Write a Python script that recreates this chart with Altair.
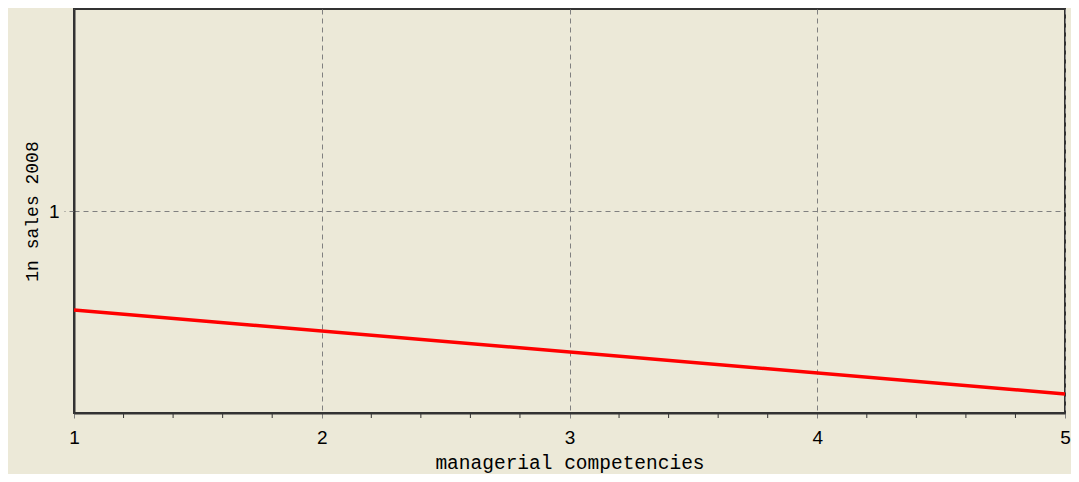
import altair as alt
import pandas as pd

# data
comp = [1, 5]
ln_sales = [0.755, 0.547]
minor_ticks = [1.2, 1.4, 1.6, 1.8, 2.2, 2.4, 2.6, 2.8, 3.2, 3.4, 3.6, 3.8,
               4.2, 4.4, 4.6, 4.8]
x_ticks = [1, 2, 3, 4, 5]
y_ticks = [1]

W, H = 991, 404
BG = "#ECE9D8"

df = pd.DataFrame({"comp": comp, "ln": ln_sales})
dm = pd.DataFrame({"m": minor_ticks})

xs = alt.Scale(domain=[1, 5], nice=False, zero=False)
ys = alt.Scale(domain=[0.5, 1.5], nice=False, zero=False)

line = alt.Chart(df).mark_line(color="#FF0000", strokeWidth=3.5).encode(
    x=alt.X("comp:Q", scale=xs,
            axis=alt.Axis(values=x_ticks, title="managerial competencies",
                          format="d", grid=True, gridColor="#808080",
                          gridDash=[5, 4], gridOpacity=1, tickColor="#808080",
                          tickDash=[5, 4], tickSize=9, tickWidth=1,
                          labelFlush=False, labelPadding=6,
                          labelFont="Liberation Sans",
                          labelFontSize=19, labelColor="#000",
                          titleFont="Liberation Mono", titleFontSize=19.5,
                          titleFontWeight="normal", titleColor="#000",
                          titlePadding=6, domainColor="#333", domainWidth=2)),
    y=alt.Y("ln:Q", scale=ys,
            axis=alt.Axis(values=y_ticks, title="1n sales 2008", format="d",
                          grid=True, gridColor="#808080", gridDash=[5, 4],
                          gridOpacity=1, tickColor="#808080", tickDash=[5, 4],
                          tickSize=10, tickWidth=1, labelPadding=5,
                          labelFlush=False,
                          labelFont="Liberation Sans", labelFontSize=19,
                          labelColor="#000", titleFont="Liberation Mono",
                          titleFontSize=18, titleFontWeight="normal",
                          titleColor="#000", titlePadding=7,
                          domainColor="#333", domainWidth=2)),
)

minor = alt.Chart(dm).mark_rule(color="#333", strokeWidth=1).encode(
    x=alt.X("m:Q", scale=xs),
    y=alt.value(H + 1),
    y2=alt.value(H + 5),
)

chart = alt.layer(line, minor).properties(
    width=W, height=H, background=BG,
    autosize=alt.AutoSizeParams(type="none"),
    padding={"left": 66, "top": 1, "right": 6, "bottom": 61},
).configure_view(stroke="#333", strokeWidth=2, fill=BG)

chart.save("out.html", embed_options={"renderer": "svg", "actions": False})
